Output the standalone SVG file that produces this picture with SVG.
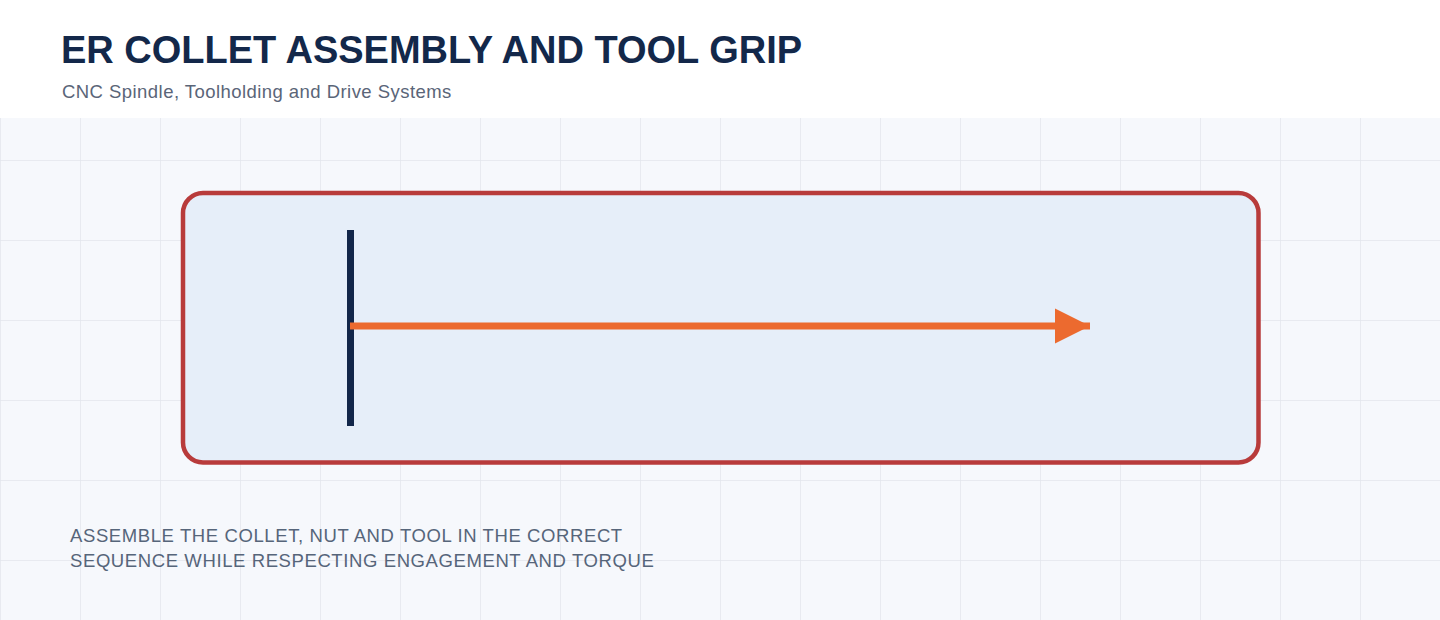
<svg xmlns="http://www.w3.org/2000/svg" width="1440" height="620" viewBox="0 0 1440 620">
<defs>
<pattern id="grid" x="0" y="0" width="80" height="80" patternUnits="userSpaceOnUse">
<path d="M0 0V80M0 0H80" fill="none" stroke="#e3e6ed" stroke-width="1.5"/>
</pattern>
<marker id="arrow" viewBox="0 0 10 10" refX="10" refY="5" markerWidth="5" markerHeight="5.7" orient="auto" markerUnits="strokeWidth">
<path d="M0 0L10 5L0 10Z" fill="#ec6a2f"/>
</marker>
</defs>
<style>
.title{font-family:"Liberation Sans",Arial,sans-serif;font-weight:bold;font-size:38px;fill:#13284a}
.sub{font-family:"Liberation Sans",Arial,sans-serif;font-size:18.5px;letter-spacing:0.45px;fill:#5a6578}
.note{font-family:"Liberation Sans",Arial,sans-serif;font-size:18.5px;letter-spacing:0.6px;fill:#56657a}
</style>
<rect width="1440" height="620" fill="#f6f8fc"/>
<rect width="1440" height="620" fill="url(#grid)"/>
<rect width="1440" height="118" fill="#ffffff"/>
<text class="title" x="61" y="63">ER COLLET ASSEMBLY AND TOOL GRIP</text>
<text class="sub" x="62" y="98">CNC Spindle, Toolholding and Drive Systems</text>
<g id="assembly">
<rect x="183" y="193" width="1075.5" height="269.5" rx="20" fill="#e6eef9" stroke="#b83b3b" stroke-width="4.5"/>
</g>
<g id="tool-stop">
<rect x="347" y="230" width="7" height="196" fill="#12264a"/>
</g>
<g id="connectors">
<line x1="350" y1="326" x2="1090" y2="326" stroke="#ec6a2f" stroke-width="7" marker-end="url(#arrow)"/>
</g>
<text class="note" x="70" y="542">ASSEMBLE THE COLLET, NUT AND TOOL IN THE CORRECT</text>
<text class="note" x="70" y="566.5">SEQUENCE WHILE RESPECTING ENGAGEMENT AND TORQUE</text>
</svg>
